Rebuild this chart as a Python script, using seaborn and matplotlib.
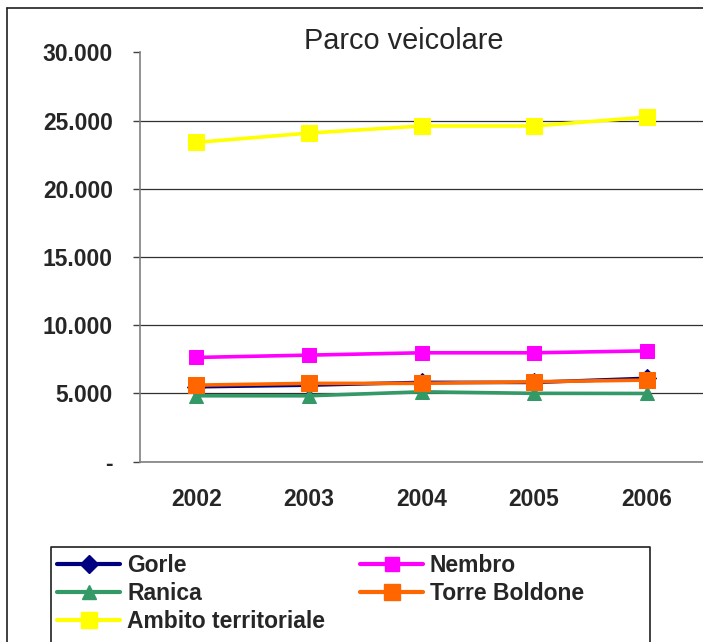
import pandas as pd
import matplotlib
matplotlib.use('Agg')
import matplotlib.pyplot as plt
import matplotlib.ticker as mticker
from matplotlib.lines import Line2D
import seaborn as sns

# dati
anni = ['2002', '2003', '2004', '2005', '2006']
gorle = [5490, 5610, 5810, 5810, 6110]
nembro = [7640, 7810, 7980, 7980, 8120]
ranica = [4830, 4830, 5120, 5010, 5000]
torre_boldone = [5610, 5740, 5740, 5860, 5980]
ambito = [23400, 24080, 24600, 24600, 25250]

serie = {
    'Gorle': gorle,
    'Nembro': nembro,
    'Ranica': ranica,
    'Torre Boldone': torre_boldone,
    'Ambito territoriale': ambito,
}

stile = {
    'Gorle': dict(color='#000080', marker='D', markersize=9.5),
    'Nembro': dict(color='#FF00FF', marker='s', markersize=9.5),
    'Ranica': dict(color='#339966', marker='^', markersize=10.5),
    'Torre Boldone': dict(color='#FF6600', marker='s', markersize=12),
    'Ambito territoriale': dict(color='#FFFF00', marker='s', markersize=12),
}

rows = []
for nome, valori in serie.items():
    for i, v in enumerate(valori):
        rows.append({'comune': nome, 'x': i, 'veicoli': v})
df = pd.DataFrame(rows)

sns.set_style('white')
plt.rcParams['font.family'] = ['Liberation Sans', 'DejaVu Sans']

W, H = 703, 642
fig = plt.figure(figsize=(W / 100, H / 100), dpi=100)
ax = fig.add_axes([140 / W, (H - 461.7) / H, (W - 140) / W, (461.7 - 52.3) / H])

for nome in serie:
    s = stile[nome]
    sns.lineplot(data=df[df['comune'] == nome], x='x', y='veicoli', ax=ax,
                 color=s['color'], marker=s['marker'], markersize=s['markersize'],
                 markeredgecolor=s['color'], linewidth=2.6, legend=False)

ax.set_xlim(-0.5, (W - 196.7) / 113.3)
ax.set_ylim(0, 30000)
ax.set_xlabel('')
ax.set_ylabel('')

ax.set_xticks(range(len(anni)))
ax.set_xticklabels(anni)
ax.set_xticks([i - 0.5 for i in range(len(anni) + 1)], minor=True)
ax.tick_params(axis='x', which='major', length=0, pad=19, labelsize=16.5)
ax.tick_params(axis='x', which='minor', length=5, width=1, color='#404040', direction='out')
for lab in ax.get_xticklabels():
    lab.set_fontweight('bold')

ax.set_yticks(range(0, 30001, 5000))
ax.yaxis.set_major_formatter(mticker.FuncFormatter(
    lambda v, p: '-' if v == 0 else f'{v:,.0f}'.replace(',', '.')))
ax.tick_params(axis='y', length=5, width=1, color='#404040', direction='out',
               pad=14.5, labelsize=16.5, left=True)
for lab in ax.get_yticklabels():
    lab.set_fontweight('bold')

ax.grid(axis='y', color='#303030', linewidth=0.9)
ax.grid(axis='x', visible=False)
ax.yaxis.get_gridlines()[-1].set_visible(False)
ax.set_axisbelow(True)

sns.despine(ax=ax, top=True, right=True)
for sp in ['left', 'bottom']:
    ax.spines[sp].set_color('#808080')
    ax.spines[sp].set_linewidth(1.2)

fig.text(404 / W, (H - 41) / H, 'Parco veicolare', ha='center', va='center', fontsize=20.8)

# cornice esterna (solo lato sinistro e superiore visibili)
fig.add_artist(Line2D([6.7 / W, 6.7 / W], [0, (H - 8) / H], transform=fig.transFigure,
                      color='#202020', linewidth=1.2))
fig.add_artist(Line2D([6.7 / W, 1], [(H - 8) / H, (H - 8) / H], transform=fig.transFigure,
                      color='#202020', linewidth=1.2))

# riquadro della legenda, tagliato in basso
fig.add_artist(Line2D([50.7 / W, 50.7 / W, 650 / W, 650 / W],
                      [0, (H - 547.3) / H, (H - 547.3) / H, 0],
                      transform=fig.transFigure, color='#202020', linewidth=1.2))


def handle(nome):
    s = stile[nome]
    return Line2D([], [], color=s['color'], marker=s['marker'], linewidth=3,
                  markersize=s['markersize'], markeredgecolor=s['color'])


colonne = [(['Gorle', 'Ranica', 'Ambito territoriale'], 57.3),
           (['Nembro', 'Torre Boldone'], 360)]
for nomi, x0 in colonne:
    leg = fig.legend([handle(n) for n in nomi], nomi, loc='upper left',
                     bbox_to_anchor=(x0 / W, (H - 554) / H), frameon=False,
                     borderpad=0, borderaxespad=0, handlelength=2.75,
                     handletextpad=0.3, labelspacing=0.21,
                     prop={'size': 16.5, 'weight': 'bold'})

fig.savefig('out.png', dpi=100)
